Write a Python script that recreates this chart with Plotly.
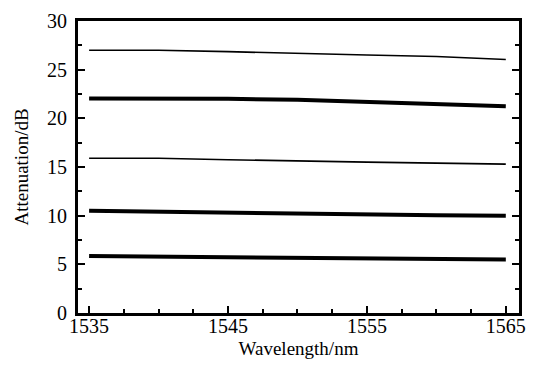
import plotly.graph_objects as go

wavelength = [1535, 1540, 1545, 1550, 1555, 1560, 1565]
line_27 = [27.0, 27.0, 26.85, 26.65, 26.5, 26.35, 26.05]
line_22 = [22.05, 22.05, 22.0, 21.9, 21.7, 21.5, 21.25]
line_16 = [15.9, 15.9, 15.75, 15.6, 15.5, 15.4, 15.3]
line_10 = [10.5, 10.4, 10.25, 10.15, 10.1, 10.05, 10.0]
line_6 = [5.85, 5.8, 5.75, 5.6, 5.55, 5.5, 5.5]

series = [(line_27, 1.6), (line_22, 4), (line_16, 1.6), (line_10, 4), (line_6, 4)]

fig = go.Figure()
for ys, w in series:
    fig.add_trace(go.Scatter(x=wavelength, y=ys, mode="lines",
                             line=dict(color="black", width=w), showlegend=False))

font = dict(family="Liberation Serif", size=20, color="black")
tfont = dict(family="Liberation Serif", size=19, color="black")

# page body has an 8px margin, so the figure is sized to end at the window edge
fig.update_layout(
    width=527, height=358,
    margin=dict(l=70, r=16, t=13, b=53),
    paper_bgcolor="white", plot_bgcolor="white",
    font=font,
    xaxis=dict(range=[1534.2, 1565.95], tickvals=[1535, 1545, 1555, 1565],
               ticks="inside", ticklen=7, tickwidth=1.5, tickcolor="black",
               minor=dict(dtick=2.5, tick0=1535, ticks="inside", ticklen=4, tickwidth=1.5, tickcolor="black"),
               showline=True, linecolor="black", linewidth=3, mirror=True,
               showgrid=False, zeroline=False, automargin=False,
               tickfont=font, ticklabelstandoff=-7,
               title=dict(text="Wavelength/nm", font=tfont, standoff=6)),
    yaxis=dict(range=[0, 30], dtick=5, tick0=0,
               ticks="inside", ticklen=7, tickwidth=1.5, tickcolor="black",
               minor=dict(dtick=2.5, ticks="inside", ticklen=4, tickwidth=1.5, tickcolor="black"),
               showline=True, linecolor="black", linewidth=3, mirror="ticks",
               showgrid=False, zeroline=False, ticklabelstandoff=4, automargin=False,
               tickfont=font,
               title=dict(text="Attenuation/dB", font=tfont, standoff=14)),
)

fig.write_html("out.html")
